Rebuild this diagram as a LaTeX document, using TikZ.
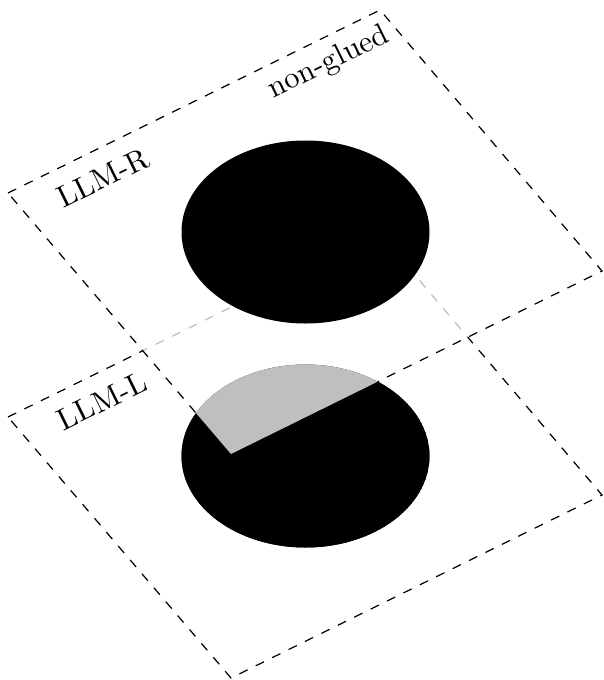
\documentclass[tikz,border=0pt]{standalone}
\begin{document}
\begin{tikzpicture}[x=0.328pt,y=-0.328pt,
 plane/.style={dashed},
 veil/.style={fill=white,fill opacity=0.75},
 disc/.style={fill=black},
 lab/.style={rotate=26.2,inner sep=0pt}
]
 \useasboundingbox (0,0) rectangle (604,680);
 % corners of the two planes
 \coordinate (L1) at (8,417);
 \coordinate (L2) at (380,234);
 \coordinate (L3) at (602,495);
 \coordinate (L4) at (231,678);
 \coordinate (U1) at (8,193);
 \coordinate (U2) at (380,10);
 \coordinate (U3) at (602,271);
 \coordinate (U4) at (231,454);
 % lower plane
 \draw[plane] (L1)--(L2)--(L3)--(L4)--cycle;
 \fill[disc] (305.5,456) ellipse [x radius=124,y radius=91.5];
 % upper plane
 \fill[veil] (U1)--(U2)--(U3)--(U4)--cycle;
 \draw[plane] (U1)--(U2)--(U3)--(U4)--cycle;
 \begin{scope}
  \clip (305.5,456) ellipse [x radius=124,y radius=91.5];
  \fill[disc] (305.5,456) ellipse [x radius=124,y radius=91.5];
  \fill[veil] (U1)--(U2)--(U3)--(U4)--cycle;
 \end{scope}
 \fill[disc] (305.5,232) ellipse [x radius=124,y radius=91.5];
 % labels
 \node[lab] (llmr) at (103,178) {LLM-R};
 \node[lab] (glue) at (329,63) {non-glued};
 \node[lab] (llml) at (102,401) {LLM-L};
\end{tikzpicture}
\end{document}
